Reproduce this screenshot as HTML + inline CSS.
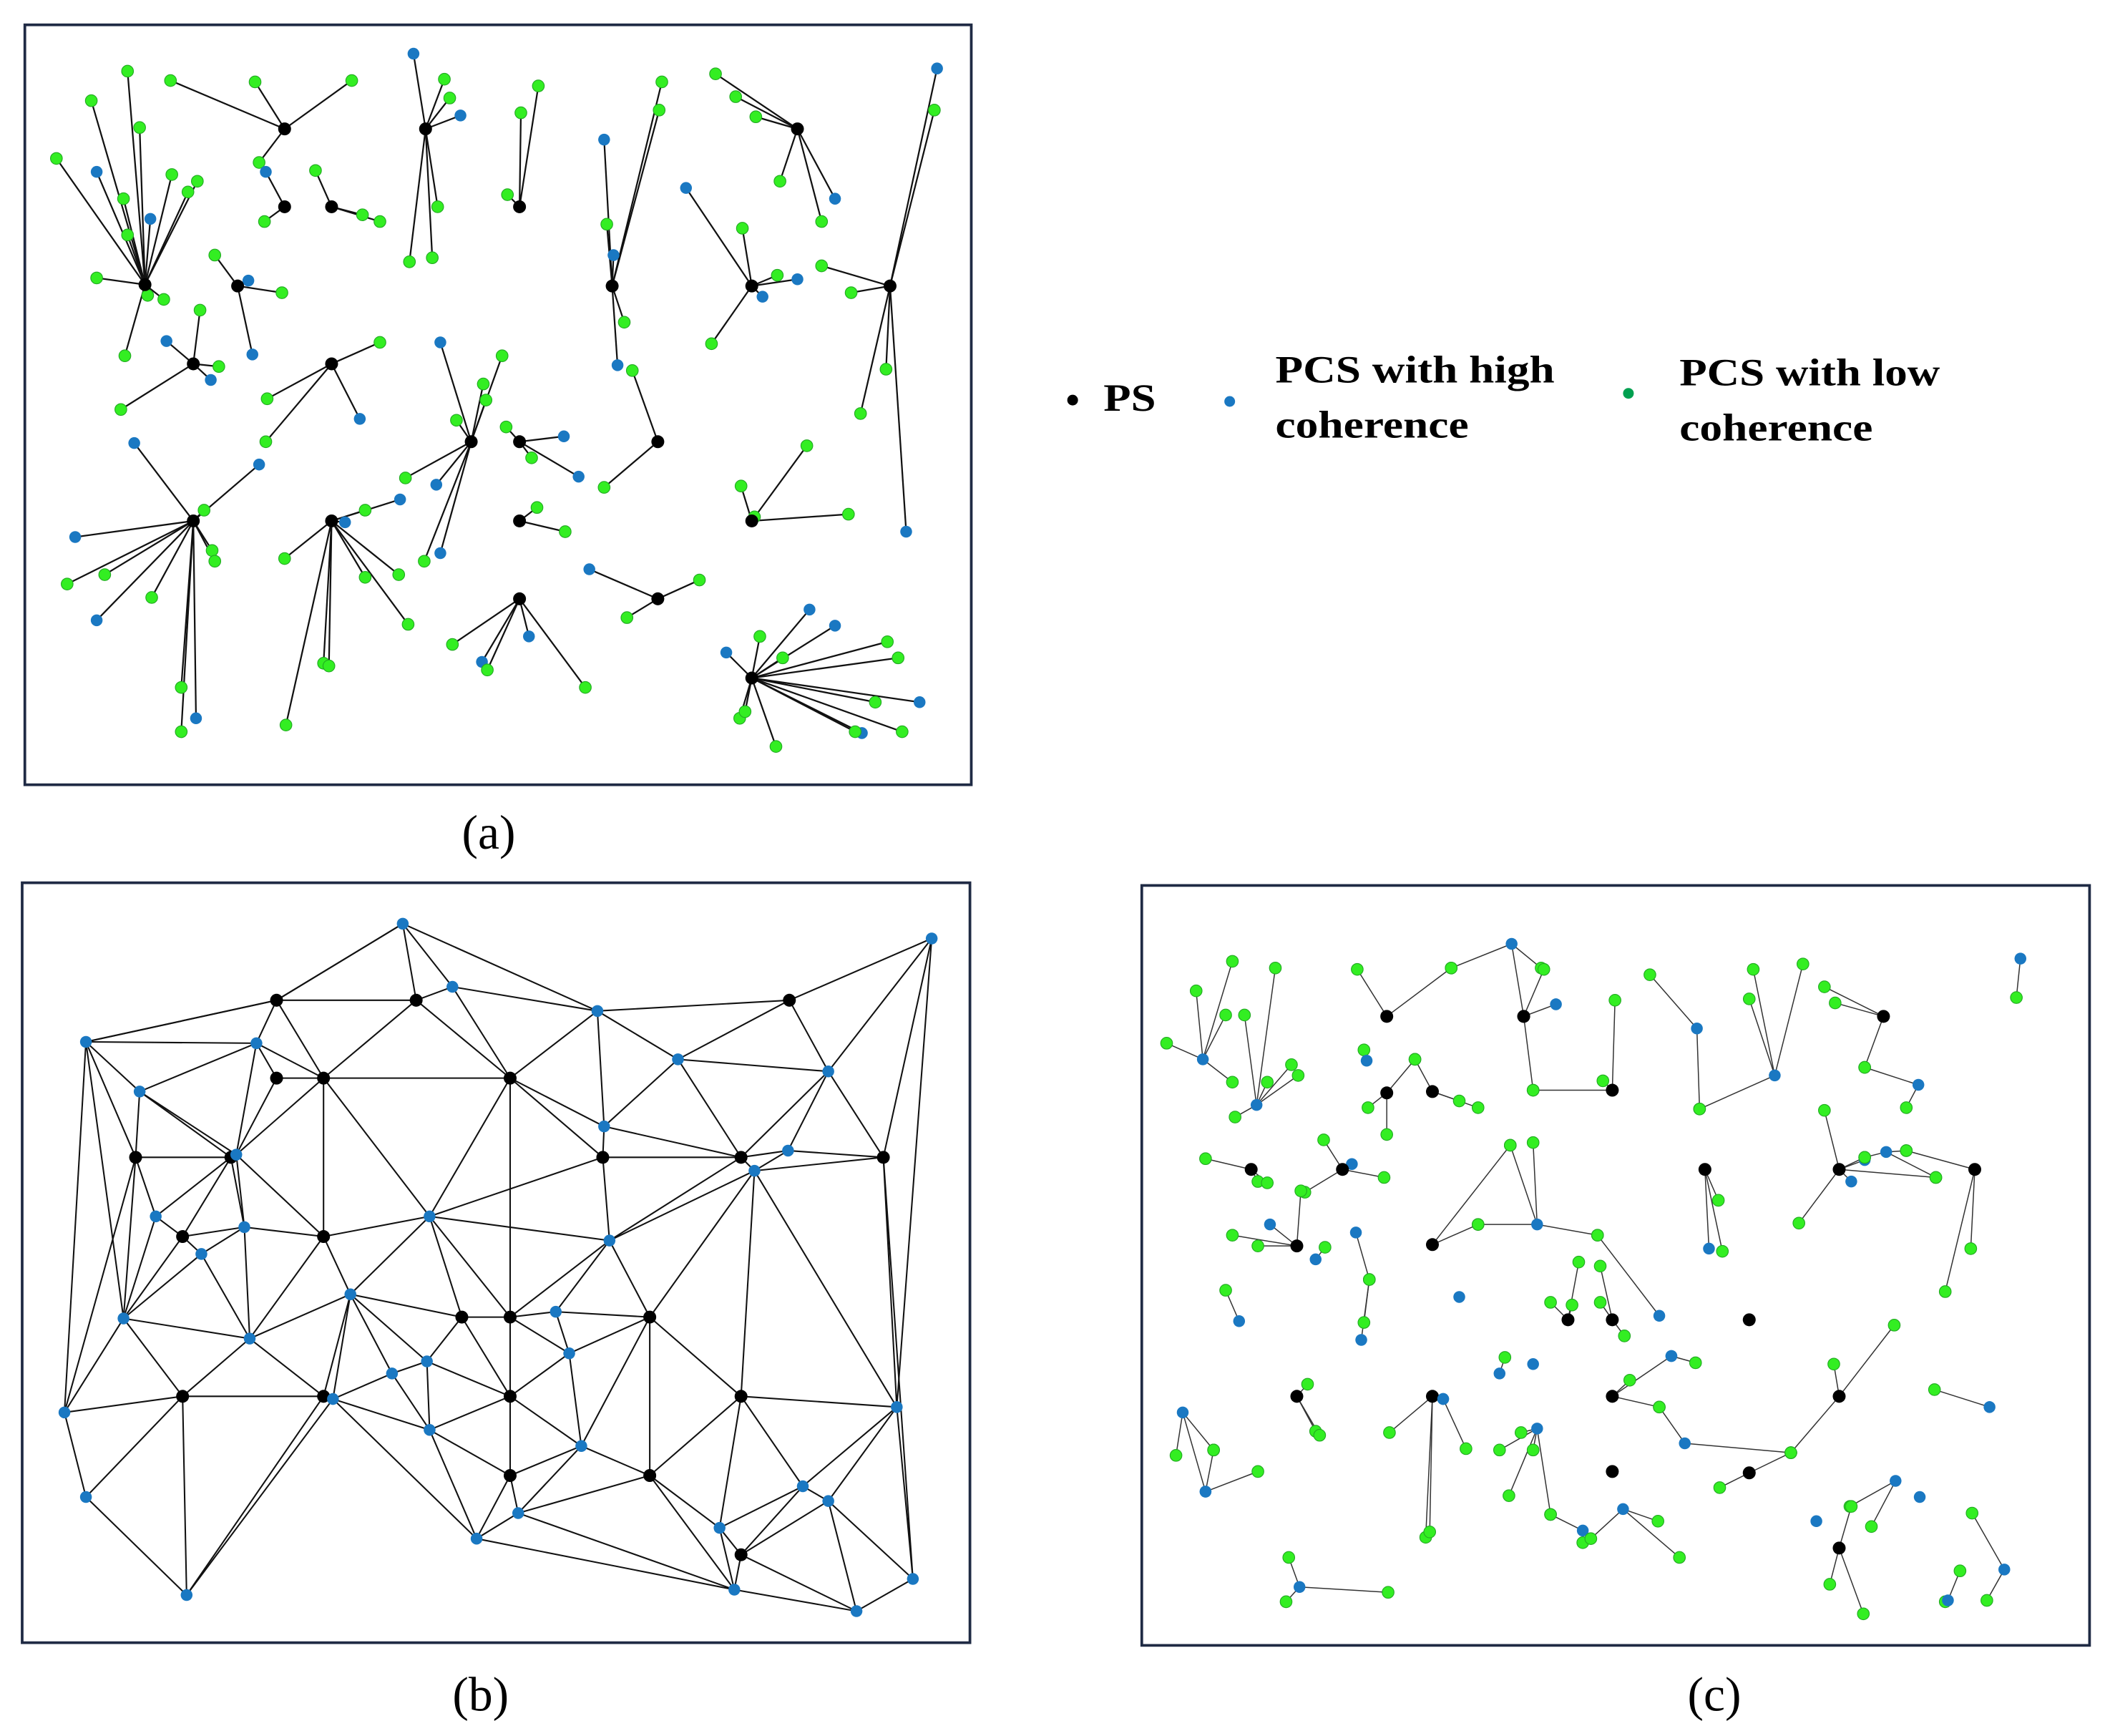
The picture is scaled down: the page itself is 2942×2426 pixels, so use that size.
<!DOCTYPE html>
<html><head><meta charset="utf-8"><style>
html,body{margin:0;padding:0;background:#fff;}
svg{display:block;}
text{font-family:"Liberation Serif",serif;fill:#000;}
</style></head><body>
<svg id="s" xmlns="http://www.w3.org/2000/svg" width="2942" height="2426" viewBox="0 0 1568 1293">
<rect x="0" y="0" width="1568" height="1293" fill="#fff"/>
<rect x="18.5" y="18.5" width="705" height="566" fill="none" stroke="#1f2a44" stroke-width="2"/>
<rect x="16.5" y="657.5" width="706" height="566" fill="none" stroke="#1f2a44" stroke-width="2"/>
<rect x="850.5" y="659.5" width="706" height="566" fill="none" stroke="#1f2a44" stroke-width="2"/>
<g id="L"></g><g id="N"></g>
<text x="364" y="632" font-size="36" text-anchor="middle">(a)</text>
<text x="358" y="1274" font-size="36" text-anchor="middle">(b)</text>
<text x="1277" y="1274" font-size="36" text-anchor="middle">(c)</text>
<circle cx="799" cy="298" r="4" fill="#000"/>
<text x="822" y="306" font-size="29" font-weight="bold" textLength="39" lengthAdjust="spacingAndGlyphs">PS</text>
<circle cx="916" cy="299" r="4" fill="#1a78c2"/>
<text x="950" y="285" font-size="29" font-weight="bold" textLength="208" lengthAdjust="spacingAndGlyphs">PCS with high</text>
<text x="950" y="326" font-size="29" font-weight="bold" textLength="144" lengthAdjust="spacingAndGlyphs">coherence</text>
<circle cx="1213" cy="293" r="4" fill="#00a050"/>
<text x="1251" y="287" font-size="29" font-weight="bold" textLength="194" lengthAdjust="spacingAndGlyphs">PCS with low</text>
<text x="1251" y="328" font-size="29" font-weight="bold" textLength="144" lengthAdjust="spacingAndGlyphs">coherence</text>
</svg>
<script>
var NS="http://www.w3.org/2000/svg",Lg=document.getElementById("L"),Ng=document.getElementById("N");
var COL={k:"#000",b:"#1a78c2",g:"#33ee22"};
function line(a,b,w,c){var l=document.createElementNS(NS,"line");l.setAttribute("x1",a[0]);l.setAttribute("y1",a[1]);l.setAttribute("x2",b[0]);l.setAttribute("y2",b[1]);l.setAttribute("stroke",c||"#111");l.setAttribute("stroke-width",w);Lg.appendChild(l);}
function node(p,t){var c=document.createElementNS(NS,"circle");c.setAttribute("cx",p[0]);c.setAttribute("cy",p[1]);c.setAttribute("r",t=="k"?4.8:4.4);c.setAttribute("fill",COL[t]);if(t=="g"){c.setAttribute("stroke","#22aa22");c.setAttribute("stroke-width","0.6");}Ng.appendChild(c);}
function parse(s){return s.trim().split(/\s+/).filter(function(x){return x.length>2;}).map(function(x){var t=x[0];var v=x.slice(1).split(",").map(Number);return {t:t,p:v};});}
function stars(arr,w,c){arr.forEach(function(s){var parts=s.split("|");var h=parse(parts[0]);var sp=parse(parts[1]||"");var hub=h[0];sp.forEach(function(n){line(hub.p,n.p,w,c);node(n.p,n.t);});node(hub.p,hub.t);});}
stars([
"k108,212|g42,118 g68,75 g95,53 g104,95 b72,128 g92,148 b112,163 g128,130 g140,143 g147,135 g72,207 g93,265 g95,175 g110,220 g122,223",
"k212,96|g127,60 g190,61 g262,60 g193,121",
"k212,154|b198,128 g197,165",
"k247,154|g235,127 g270,160 g283,165",
"k317,96|b308,40 g331,59 g335,73 b343,86 g305,195 g322,192 g326,154",
"k387,154|g388,84 g401,64 g378,145",
"k456,213|b450,104 g493,61 g491,82 g452,167 b457,190 g465,240 b460,272",
"k594,96|g533,55 g548,72 g563,87 g581,135 g612,165 b622,148",
"k560,213|b511,140 g553,170 g579,205 b594,208 b568,221 g530,256",
"k663,213|b698,51 g696,82 g612,198 g634,218 g660,275 g641,308 b675,396",
"k177,213|g160,190 b185,209 g210,218 b188,264",
"k144,271|b124,254 g149,231 g163,273 b157,283 g90,305",
"k247,271|g283,255 g199,297 g198,329 b268,312",
"k351,329|b328,255 g360,286 g362,298 g340,313 b325,361 g302,356 g316,418 b328,412 g374,265",
"k387,329|g377,318 b420,325 g396,341 b431,355",
"k490,329|g471,276 g450,363",
"k387,388|g400,378 g421,396",
"k490,446|b439,424 g467,460 g521,432",
"k387,446|g337,480 b359,493 g363,499 b394,474 g436,512",
"k560,388|g552,362 g601,332 g632,383 g562,385",
"k144,388|b100,330 g152,380 b193,346 b56,400 g50,435 g78,428 b72,462 g113,445 g158,410 g160,418 g135,512 g135,545 b146,535",
"k247,388|b298,372 g272,380 b257,389 g212,416 g272,430 g297,428 g304,465 g241,494 g245,496 g213,540",
"k560,505|b541,486 g566,474 b603,454 b622,466 g583,490 g661,478 g669,490 b685,523 g652,523 g672,545 b642,546 g637,545 g578,556 g551,535 g555,530"
],1.2,"#111");
stars([
"b896,789|g869,777 g891,738 g918,716 g913,756 g918,806",
"b936,823|g950,721 g927,756 g944,806 g962,793 g967,801 g920,832",
"k1033,757|g1011,722 g1081,721",
"b1126,703|g1081,721 g1148,721 k1135,757",
"k1135,757|g1150,722 b1159,748 g1142,812",
"k1201,812|g1142,812 g1194,805 g1203,745",
"b1264,766|g1266,826 g1229,726",
"b1322,801|g1306,722 g1303,744 g1343,718 g1266,826",
"k1403,757|g1359,735 g1367,747 g1389,795",
"b1429,808|g1389,795 g1420,825",
"b1505,714|g1502,743",
"b1018,790|g1016,782",
"k1033,814|g1054,789 g1019,825 g1033,845",
"k1067,813|g1087,820 g1101,825 g1054,789",
"k932,871|g898,863 g937,880 g944,881",
"k1000,871|b1007,867 g986,849 g972,888 g1031,877",
"k1270,871|g1280,894 b1273,930 g1283,932",
"k1370,871|b1379,880 b1389,864 g1359,827 g1389,862 g1442,877 g1340,911",
"b1405,858|g1389,862 g1420,857 g1442,877",
"k1471,871|g1420,857 g1468,930 g1449,962",
"k966,928|b946,912 g918,920 g937,928 g969,887",
"b980,938|g987,929",
"b1010,918|g1020,953",
"g1020,953|g1016,985 b1014,998",
"g913,961|b923,984",
"k1067,927|g1101,912 g1125,853",
"b1145,912|g1125,853 g1142,851 g1190,920 g1101,912",
"g1190,920|b1236,980",
"b1087,966|",
"k1168,983|g1155,970 g1176,940 g1171,972",
"k1201,983|g1192,970 g1192,943 g1210,995",
"k1303,983|",
"k1201,1040|g1214,1028 b1245,1010 g1236,1048",
"g1263,1015|b1245,1010",
"b1255,1075|g1236,1048 g1334,1082",
"k1370,1040|g1411,987 g1366,1016 g1334,1082",
"k966,1040|g974,1031 g980,1066 g983,1069",
"b1117,1023|g1121,1011",
"b1142,1016|",
"k1067,1040|b1075,1042 g1035,1067 g1062,1145 g1065,1141",
"b1075,1042|g1092,1079",
"b1145,1064|g1133,1067 g1117,1080 g1142,1080 g1124,1114 g1155,1128",
"b1179,1140|g1155,1128 g1179,1149",
"b1209,1124|g1185,1146 g1235,1133 g1251,1160",
"g1441,1035|b1482,1048",
"b881,1052|g876,1084 g904,1080 b898,1111",
"b898,1111|g937,1096 g904,1080",
"k1201,1096|",
"k1303,1097|g1281,1108 g1334,1082",
"b1412,1103|g1378,1122 g1394,1137",
"b1353,1133|",
"b1430,1115|",
"k1370,1153|g1379,1122 g1363,1180 g1388,1202",
"b968,1182|g960,1160 g958,1193 g1034,1186",
"b1493,1169|g1469,1127 g1480,1192",
"b1451,1192|g1460,1170 g1449,1193"
],0.8,"#333");
var pb=parse("k206,745 k310,745 k380,803 k588,745 k206,803 k241,803 k101,862 k172,862 k449,862 k552,862 k658,862 k136,921 k241,921 k344,981 k380,981 k484,981 k136,1040 k241,1040 k380,1040 k552,1040 k380,1099 k484,1099 k552,1158 b300,688 b694,699 b337,735 b445,753 b64,776 b191,777 b104,813 b505,789 b617,798 b450,839 b176,860 b587,857 b562,872 b116,906 b182,914 b150,934 b320,906 b454,924 b261,964 b92,982 b414,977 b186,997 b424,1008 b318,1014 b292,1023 b248,1042 b48,1052 b668,1048 b320,1065 b433,1077 b64,1115 b598,1107 b617,1118 b536,1138 b355,1146 b386,1127 b139,1188 b547,1184 b638,1200 b680,1176");
var P=pb.map(function(n){return n.p;});
function circ(a,b,c){var ax=P[a][0],ay=P[a][1],bx=P[b][0],by=P[b][1],cx=P[c][0],cy=P[c][1];var d=2*(ax*(by-cy)+bx*(cy-ay)+cx*(ay-by));var ux=((ax*ax+ay*ay)*(by-cy)+(bx*bx+by*by)*(cy-ay)+(cx*cx+cy*cy)*(ay-by))/d;var uy=((ax*ax+ay*ay)*(cx-bx)+(bx*bx+by*by)*(ax-cx)+(cx*cx+cy*cy)*(bx-ax))/d;return [ux,uy,(ax-ux)*(ax-ux)+(ay-uy)*(ay-uy)];}
var n=P.length;P.push([-5000,-5000],[8000,-5000],[400,9000]);
var tris=[[n,n+1,n+2]];tris[0].c=circ(n,n+1,n+2);
for(var i=0;i<n;i++){var x=P[i][0],y=P[i][1];var bad=[],keep=[];tris.forEach(function(t){var dx=x-t.c[0],dy=y-t.c[1];if(dx*dx+dy*dy<t.c[2])bad.push(t);else keep.push(t);});
var ed={};bad.forEach(function(t){[[t[0],t[1]],[t[1],t[2]],[t[2],t[0]]].forEach(function(e){var k=Math.min(e[0],e[1])+"_"+Math.max(e[0],e[1]);if(k in ed)ed[k]=0;else ed[k]=e;});});
for(var k in ed){if(ed[k]){var t=[ed[k][0],ed[k][1],i];t.c=circ(t[0],t[1],t[2]);keep.push(t);}}tris=keep;}
var done={};tris.forEach(function(t){[[t[0],t[1]],[t[1],t[2]],[t[2],t[0]]].forEach(function(e){if(e[0]>=n||e[1]>=n)return;var k=Math.min(e[0],e[1])+"_"+Math.max(e[0],e[1]);if(done[k])return;done[k]=1;var a=P[e[0]],b=P[e[1]];var L=Math.hypot(a[0]-b[0],a[1]-b[1]);if(L>215)return;line(a,b,1.1,"#111");});});
[[[64,776],[48,1052]],[[694,699],[668,1048]],[[658,862],[680,1176]],[[64,776],[92,982]],[[380,803],[380,981]],[[64,776],[206,745]],[[300,688],[206,745]]].forEach(function(e){line(e[0],e[1],1.1,"#111");});
pb.forEach(function(q){node(q.p,q.t);});
</script>
</body></html>
